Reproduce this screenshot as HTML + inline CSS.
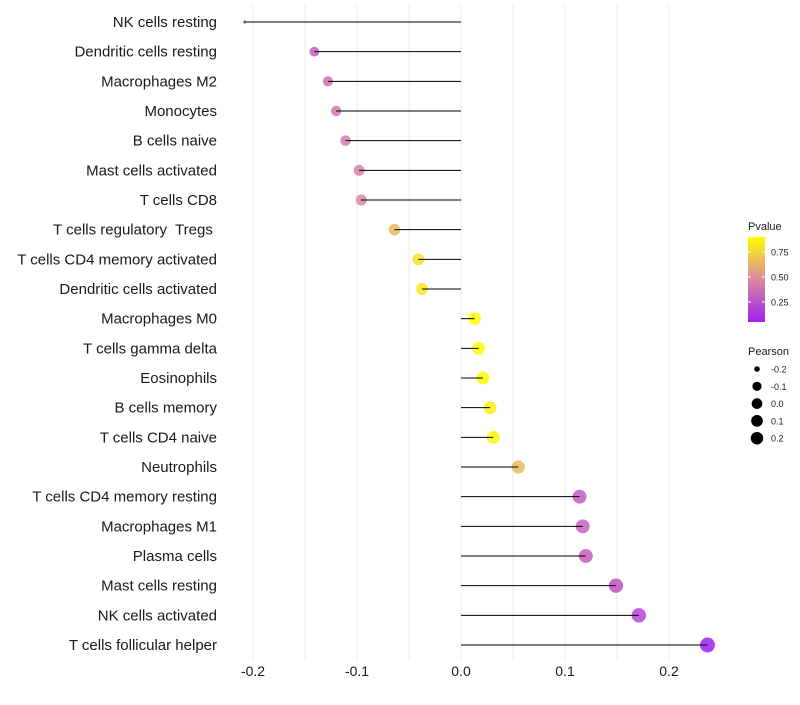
<!DOCTYPE html>
<html><head><meta charset="utf-8">
<style>
body{margin:0;background:#fff;}
svg text{font-family:"Liberation Sans",sans-serif;white-space:pre;}
</style></head>
<body>
<svg id="chart" width="800" height="700" xmlns="http://www.w3.org/2000/svg">
<g id="grid"></g><g id="marks"></g><g id="labels"></g><g id="legend"></g>
</svg>
<script>
const categories = ["NK cells resting","Dendritic cells resting","Macrophages M2","Monocytes","B cells naive","Mast cells activated","T cells CD8","T cells regulatory  Tregs ","T cells CD4 memory activated","Dendritic cells activated","Macrophages M0","T cells gamma delta","Eosinophils","B cells memory","T cells CD4 naive","Neutrophils","T cells CD4 memory resting","Macrophages M1","Plasma cells","Mast cells resting","NK cells activated","T cells follicular helper"];
const pearson = [-0.208,-0.141,-0.128,-0.120,-0.111,-0.098,-0.096,-0.064,-0.041,-0.0375,0.013,0.017,0.021,0.028,0.031,0.055,0.114,0.117,0.120,0.149,0.171,0.237];
const pvalues = [0.05,0.30,0.37,0.40,0.42,0.45,0.46,0.65,0.80,0.82,0.95,0.90,0.88,0.85,0.87,0.65,0.30,0.32,0.30,0.25,0.20,0.05];
const xTicks = [-0.2,-0.1,0.0,0.1,0.2];
const xMinor = [-0.15,-0.05,0.05,0.15];
const pTicks = [0.25,0.5,0.75];
const sizeLegend = [-0.2,-0.1,0.0,0.1,0.2];

const NS="http://www.w3.org/2000/svg";
const xScale = v => 461 + v*1040;
const yScale = i => 22 + i*(623/21);
const pMin=0.05, pMax=0.9;
function colorScale(p){
  let t=Math.max(0,Math.min(1,(p-pMin)/(pMax-pMin)));
  const stops=[[160,32,240],[217,137,160],[255,255,0]];
  let a,b,u;
  if(t<0.5){a=stops[0];b=stops[1];u=t/0.5;}else{a=stops[1];b=stops[2];u=(t-0.5)/0.5;}
  return `rgb(${a.map((c,k)=>Math.round(c+(b[k]-c)*u)).join(",")})`;
}
const sMin=-0.208,sMax=0.237,rMin=1.5,rMax=7.5;
const rScale = v => rMin + (rMax-rMin)*Math.pow(Math.max(0,(v-sMin)/(sMax-sMin)),0.3);
function mk(tag,attrs,parent,text){const e=document.createElementNS(NS,tag);for(const k in attrs)e.setAttribute(k,attrs[k]);if(text!==undefined)e.textContent=text;parent.appendChild(e);return e;}

const grid=document.getElementById('grid'),marks=document.getElementById('marks'),labels=document.getElementById('labels'),legend=document.getElementById('legend');
xMinor.concat(xTicks).forEach(v=>{
  const l=mk('line',{x1:xScale(v),x2:xScale(v),y1:5,y2:660,stroke:'#ebebeb','stroke-width':1},grid);
  
  
});
categories.forEach((c,i)=>{
  const y=yScale(i);
  const pt=mk('circle',{cx:xScale(pearson[i]),cy:y,r:rScale(pearson[i]),fill:colorScale(pvalues[i]),'fill-opacity':0.85},marks);
  
  
  const seg=mk('line',{x1:xScale(0),x2:xScale(pearson[i]),y1:y,y2:y,stroke:'#000','stroke-width':1},marks);
  
  
  const t=mk('text',{x:217,y:y+5,'text-anchor':'end','font-size':15,fill:'#1a1a1a'},labels,c);
  
  
});
xTicks.forEach(v=>{
  const t=mk('text',{x:xScale(v),y:676,'text-anchor':'middle','font-size':14,fill:'#1a1a1a'},labels,v.toFixed(1));
  
  
});
const lt=mk('text',{x:748,y:230,'font-size':11,fill:'#1a1a1a'},legend,'Pvalue');


const defs=mk('defs',{},legend);
const grad=mk('linearGradient',{id:'pg',x1:0,y1:1,x2:0,y2:0},defs);
for(let k=0;k<=10;k++){mk('stop',{offset:k/10,'stop-color':colorScale(pMin+(pMax-pMin)*k/10)},grad);}
const barTop=237,barBot=322;
const pY=p=>barBot-(p-pMin)/(pMax-pMin)*(barBot-barTop);
const bar=mk('rect',{x:748,y:barTop,width:17,height:barBot-barTop,fill:'url(#pg)'},legend);


pTicks.forEach(p=>{
  mk('line',{x1:748,x2:751,y1:pY(p),y2:pY(p),stroke:'#fff'},legend);
  mk('line',{x1:762,x2:765,y1:pY(p),y2:pY(p),stroke:'#fff'},legend);
  const t=mk('text',{x:771,y:pY(p)+3.5,'font-size':9,fill:'#1a1a1a'},legend,p.toFixed(2));
  
  
});
const st=mk('text',{x:748,y:355,'font-size':11,fill:'#1a1a1a'},legend,'Pearson');


sizeLegend.forEach((v,k)=>{
  const y=369+k*17.3;
  const c=mk('circle',{cx:757,cy:y,r:rScale(v)*0.85,fill:'#000'},legend);
  
  
  const t=mk('text',{x:771,y:y+3.5,'font-size':9,fill:'#1a1a1a'},legend,v.toFixed(1));
  
  
});
</script>
</body></html>
